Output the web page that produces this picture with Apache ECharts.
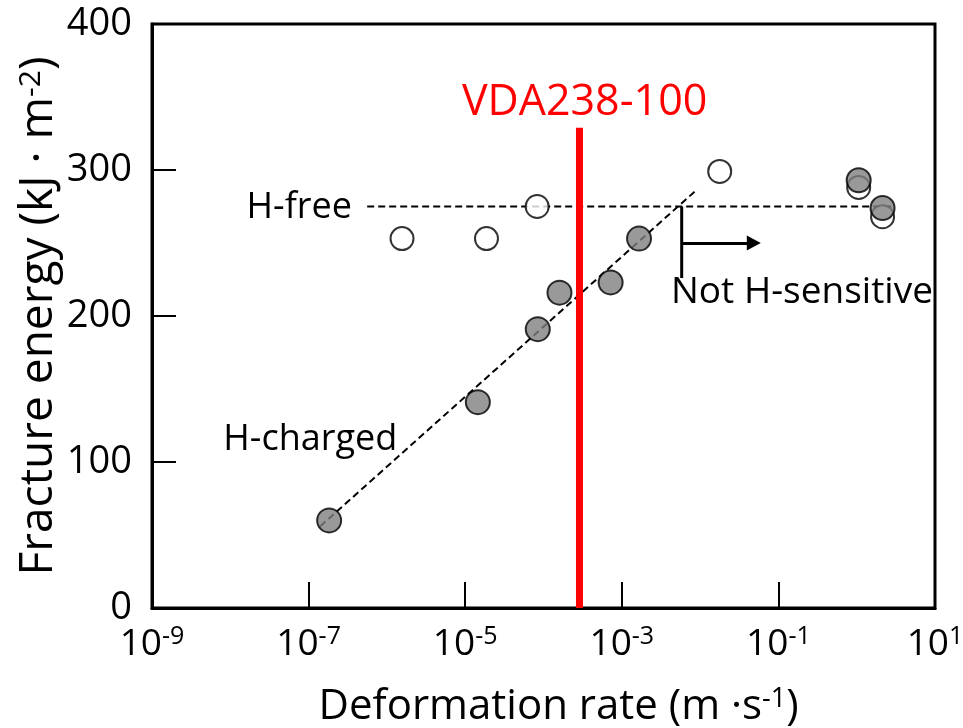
<!DOCTYPE html>
<html><head><meta charset="utf-8">
<script src="https://cdn.jsdelivr.net/npm/echarts@6/dist/echarts.min.js"></script>
<style>html,body{margin:0;padding:0;background:#fff}#c{width:963px;height:728px}</style>
</head><body><div id="c"></div>
<script>
// ---- data (rate in m/s, energy in kJ/m^2) ----
const hFreeRate = [1.56e-6, 1.87e-5, 8.3e-5, 1.78e-2, 1.06, 2.14];
const hFreeEnergy = [253, 253, 275, 299, 288, 268];
const hChargedRate = [1.83e-7, 1.45e-5, 8.45e-5, 1.6e-4, 7.2e-4, 1.66e-3, 1.06, 2.14];
const hChargedEnergy = [60, 141, 191, 216, 223, 253, 293, 274];
const hFreeFitRate = [5.6e-7, 2.9];
const hFreeFitEnergy = [275, 275];
const hChargedFitRate = [1.41e-7, 9.3e-3];
const hChargedFitEnergy = [56, 287];
const vdaRate = [2.88e-4, 2.88e-4];
const vdaEnergy = [0, 329];
const bracketRate = [5.82e-3, 5.82e-3];
const bracketEnergy = [275, 226];
const arrowRate = [5.82e-3, 4.85e-2];
const arrowEnergy = [250, 250];
const xTickExp = [-9, -7, -5, -3, -1, 1];
const xMinorTickExp = [-7, -5, -3, -1];
const yTicks = [0, 100, 200, 300, 400];
const annotations = [
  {text: 'H-free', rate: 7.6e-8, energy: 274, size: 36, color: '#000'},
  {text: 'H-charged', rate: 1.05e-7, energy: 115, size: 36, color: '#000'},
  {text: 'Not H-sensitive', rate: 0.2, energy: 216, size: 37, color: '#000'},
  {text: 'VDA238-100', rate: 3.35e-4, energy: 346, size: 43, color: '#ff0000'}
];

const FONT = '"Open Sans"';
const lg = v => Math.log10(v);
const pts = (xs, ys) => xs.map((x, i) => [lg(x), ys[i]]);

const chart = echarts.init(document.getElementById('c'), null, {renderer: 'canvas'});
const supRich = {
  b: {fontSize: 37, fontFamily: FONT, color: '#000', lineHeight: 40},
  s: {fontSize: 25, fontFamily: FONT, color: '#000', verticalAlign: 'top', lineHeight: 25}
};
const nameRichX = {s: {fontSize: 27, fontFamily: FONT, color: '#000', verticalAlign: 'top', lineHeight: 27}};
const nameRichY = {s: {fontSize: 30, fontFamily: FONT, color: '#000', verticalAlign: 'top', lineHeight: 30}};
chart.setOption({
  backgroundColor: '#fff',
  animation: false,
  grid: {left: 152, right: 28, top: 24, bottom: 120, show: true, borderColor: '#000', borderWidth: 3,
    backgroundColor: 'transparent', containLabel: false, outerBoundsMode: 'none'},
  xAxis: {
    type: 'value', min: xTickExp[0], max: xTickExp[xTickExp.length - 1],
    axisLine: {show: true, onZero: false, lineStyle: {color: '#000', width: 3}},
    axisTick: {show: true, inside: true, length: 26, lineStyle: {color: '#000', width: 2}, customValues: xMinorTickExp},
    axisLabel: {show: true, margin: 16, customValues: xTickExp,
      formatter: v => '{b|10}{s|' + String(v).replace('−', '-') + '}', rich: supRich},
    splitLine: {show: false},
    name: 'Deformation rate (m ·s{s|-1})', nameLocation: 'middle', nameGap: 78,
    nameTextStyle: {fontSize: 42, fontFamily: FONT, color: '#000', padding: [0, 0, 0, 30], rich: nameRichX}
  },
  yAxis: {
    type: 'value', min: 0, max: 400, interval: 100,
    axisLine: {show: true, onZero: false, lineStyle: {color: '#000', width: 3}},
    axisTick: {show: true, inside: true, length: 24, lineStyle: {color: '#000', width: 2}, customValues: [100, 200, 300]},
    axisLabel: {fontSize: 38, fontFamily: FONT, color: '#000', margin: 20, customValues: yTicks},
    splitLine: {show: false},
    name: 'Fracture energy (kJ · m{s|-2})', nameLocation: 'middle', nameGap: 90, nameMoveOverlap: false,
    nameTextStyle: {fontSize: 46, fontFamily: FONT, color: '#000', rich: nameRichY}
  },
  series: [
    {type: 'line', name: 'H-free fit', data: pts(hFreeFitRate, hFreeFitEnergy), symbol: 'none', z: 2,
      lineStyle: {color: '#000', width: 2, type: [7, 4]}},
    {type: 'line', name: 'H-charged fit', data: pts(hChargedFitRate, hChargedFitEnergy), symbol: 'none', z: 2,
      lineStyle: {color: '#000', width: 2, type: [7, 4]}},
    {type: 'scatter', name: 'H-free', data: pts(hFreeRate, hFreeEnergy), symbol: 'circle', symbolSize: 23, z: 3,
      itemStyle: {color: '#fff', borderColor: '#000', borderWidth: 2}},
    {type: 'scatter', name: 'H-charged', data: pts(hChargedRate, hChargedEnergy), symbol: 'circle', symbolSize: 24, z: 4,
      itemStyle: {color: '#7f7f7f', borderColor: '#000', borderWidth: 2}},
    {type: 'line', name: 'VDA', data: pts(vdaRate, vdaEnergy), symbol: 'none', z: 5,
      lineStyle: {color: '#ff0000', width: 7}},
    {type: 'line', name: 'bracket', data: pts(bracketRate, bracketEnergy), symbol: 'none', z: 5,
      lineStyle: {color: '#000', width: 3},
      markLine: {silent: true, symbol: ['none', 'triangle'], symbolSize: [15, 14], animation: false,
        lineStyle: {color: '#000', width: 3, type: 'solid'}, label: {show: false},
        data: [[{coord: [lg(arrowRate[0]), arrowEnergy[0]]}, {coord: [lg(arrowRate[1]), arrowEnergy[1]]}]]}},
    {type: 'scatter', name: 'labels', symbol: 'circle', symbolSize: 1, z: 6, silent: true,
      itemStyle: {color: 'rgba(0,0,0,0)'},
      data: annotations.map(a => ({value: [lg(a.rate), a.energy],
        label: {show: true, position: 'inside', formatter: a.text, fontSize: a.size, fontFamily: FONT,
          color: a.color, opacity: 1, textBorderWidth: 0, textShadowBlur: 0}}))}
  ]
});
</script>
</body></html>
